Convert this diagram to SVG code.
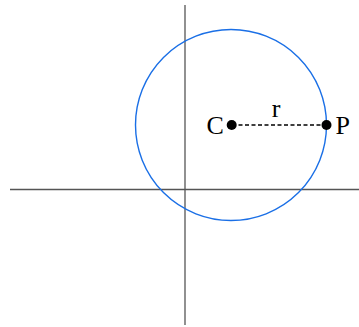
<svg xmlns="http://www.w3.org/2000/svg" width="359" height="327" viewBox="0 0 359 327">
<style>
.axis{stroke:#555;stroke-width:1.3;fill:none}
.lbl{font-family:"Liberation Serif","Times New Roman",serif;font-size:26px;fill:#000}
.dot{fill:#000}
</style>
<rect width="359" height="327" fill="#fff"/>
<g id="axes">
<line class="axis" x1="10" y1="189.5" x2="359" y2="189.5"/>
<line class="axis" x1="185" y1="5" x2="185" y2="325"/>
</g>
<g id="circle">
<circle cx="231" cy="125" r="95.5" fill="none" stroke="#1a6fe6" stroke-width="1.4"/>
</g>
<g id="connectors">
<line x1="232" y1="125" x2="326" y2="125" stroke="#000" stroke-width="1.3" stroke-dasharray="4,2.5"/>
</g>
<g id="C">
<circle class="dot" cx="231.7" cy="125" r="5"/>
<text class="lbl" x="206.5" y="133.5">C</text>
</g>
<g id="P">
<circle class="dot" cx="326.5" cy="125" r="5"/>
<text class="lbl" x="335.5" y="133.5">P</text>
</g>
<g id="r">
<text class="lbl" x="276" y="117" text-anchor="middle">r</text>
</g>
</svg>
